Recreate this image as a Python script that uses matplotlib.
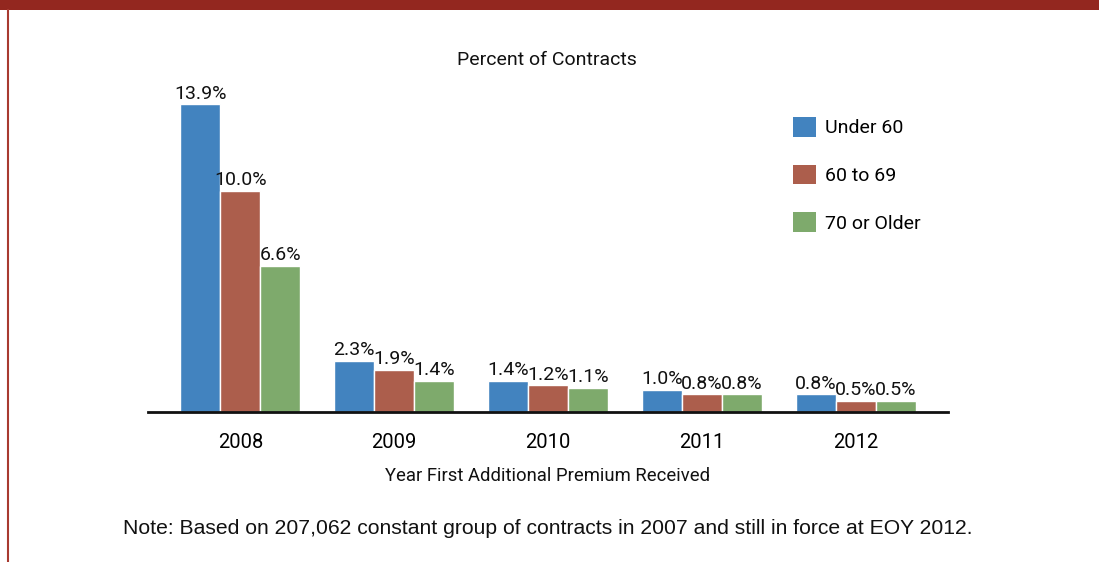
import matplotlib.pyplot as plt
import numpy as np
from matplotlib.patches import Rectangle, Patch
from matplotlib.lines import Line2D

years = ["2008", "2009", "2010", "2011", "2012"]
series = ["Under 60", "60 to 69", "70 or Older"]
under_60 = [13.9, 2.3, 1.4, 1.0, 0.8]
age_60_69 = [10.0, 1.9, 1.2, 0.8, 0.5]
age_70_up = [6.6, 1.4, 1.1, 0.8, 0.5]
colors = ["#4283BF", "#AC5E4C", "#7EAA6C"]

plt.rcParams["font.family"] = ["Roboto", "DejaVu Sans"]
FS = 14

fig = plt.figure(figsize=(10.99, 5.62), dpi=100)
W, H = 1099, 562

# frame decoration: red band on top, thin red line on the left
fig.patches.append(Rectangle((0, 1 - 10 / H), 1, 10 / H, transform=fig.transFigure,
                             facecolor="#93271F", edgecolor="none"))
fig.lines.append(Line2D([7.5 / W, 7.5 / W], [0, 1 - 10 / H], transform=fig.transFigure,
                        color="#A83A30", linewidth=1.5))

ax = fig.add_axes([148 / W, 1 - 412 / H, 800 / W, 332 / H])

x = np.arange(len(years))
w = 0.26
for i, (vals, c) in enumerate(zip([under_60, age_60_69, age_70_up], colors)):
    xs = x + (i - 1) * w
    ax.bar(xs, vals, width=w, color=c, edgecolor="white", linewidth=1)
    for xi, v in zip(xs, vals):
        ax.text(xi, v + 0.08, f"{v:.1f}%", ha="center", va="bottom",
                fontsize=FS, color="#111111")

ax.set_xlim(-0.6, 4.6)
ax.set_ylim(0, 15)
ax.set_yticks([])
ax.set_xticks(x, years, fontsize=14.5)
ax.tick_params(axis="x", length=0, pad=15)
for s in ["top", "right", "left"]:
    ax.spines[s].set_visible(False)
ax.spines["bottom"].set_linewidth(2)
ax.spines["bottom"].set_color("#111111")

fig.text(547 / W, 1 - 60 / H, "Percent of Contracts", ha="center", va="center",
         fontsize=FS, color="#111111")
fig.text(548 / W, 1 - 476 / H, "Year First Additional Premium Received",
         ha="center", va="center", fontsize=13.3, color="#111111")
fig.text(548 / W, 1 - 528 / H,
         "Note: Based on 207,062 constant group of contracts in 2007 and still in force at EOY 2012.",
         ha="center", va="center", fontsize=15.2, color="#111111",
         family=["Liberation Sans", "DejaVu Sans"])

handles = [Patch(facecolor=c, edgecolor="none") for c in colors]
fig.legend(handles, series, loc="upper left", bbox_to_anchor=(793 / W, 1 - 117 / H),
           frameon=False, fontsize=FS, handlelength=1.19, handleheight=1.19,
           handletextpad=0.45, labelspacing=1.4, borderpad=0, borderaxespad=0)

fig.savefig("out.png", dpi=100)
